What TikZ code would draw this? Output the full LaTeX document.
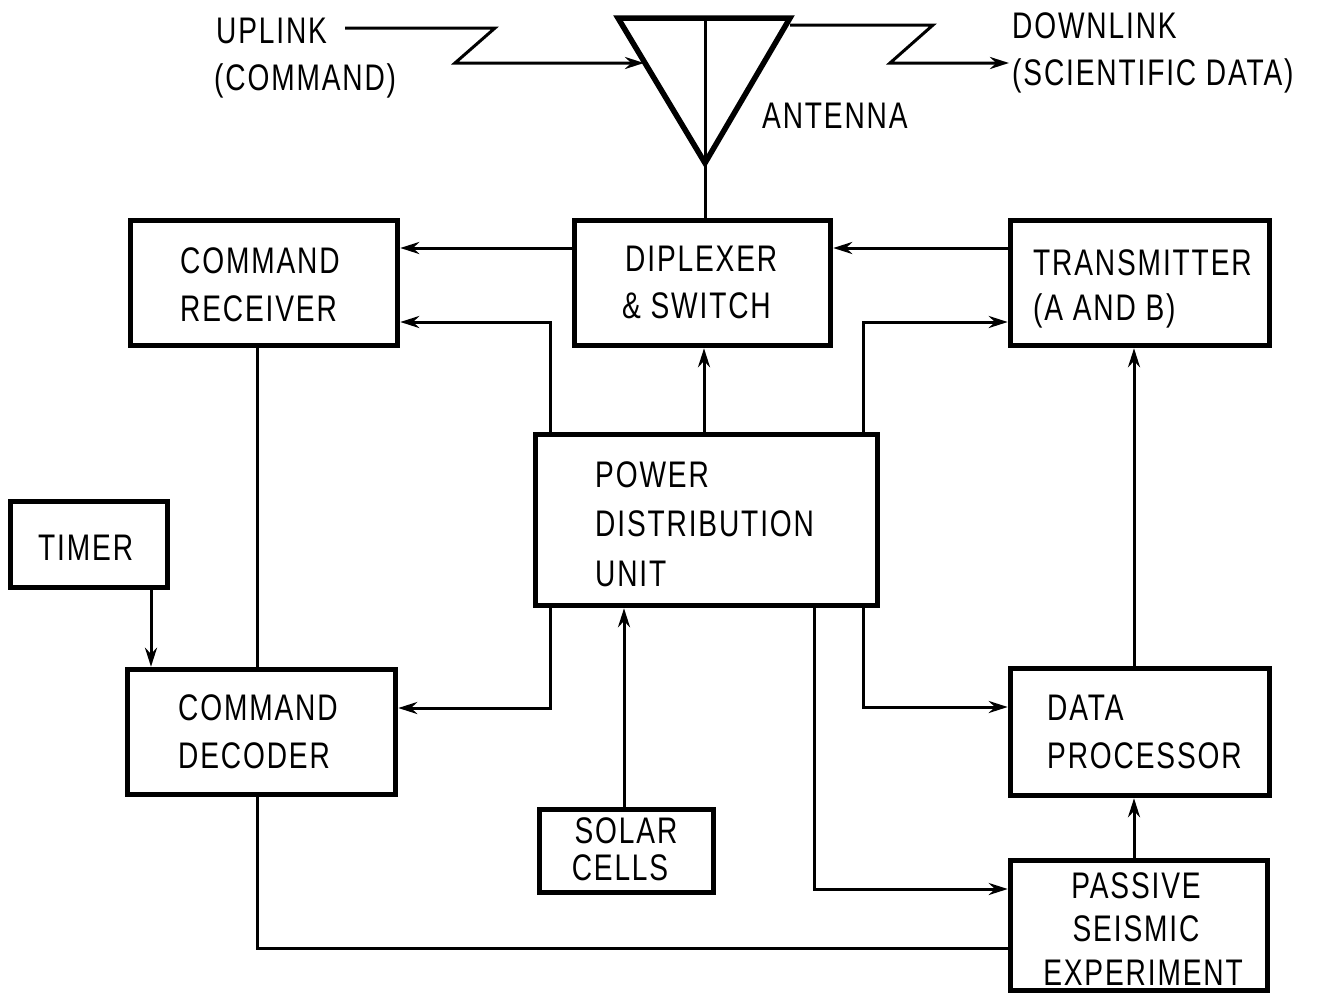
\documentclass[tikz,border=0pt]{standalone}
\usepackage{fontspec}
\setmainfont[FakeStretch=0.76,LetterSpace=5]{Liberation Sans}
\usetikzlibrary{arrows.meta}
\tikzset{
  box/.style={draw, line width=5.5pt, inner sep=0pt, minimum width=#1},
  conn/.style={line width=3pt},
  arr/.style={conn, -{Stealth[length=19pt,width=12pt]}},
  lbl/.style={inner sep=0pt, anchor=base west, font=\fontsize{37}{44}\selectfont},
  lblc/.style={inner sep=0pt, anchor=base, font=\fontsize{37}{44}\selectfont}
}
\begin{document}
\begin{tikzpicture}[x=1pt,y=-1pt]
\useasboundingbox (0,0) rectangle (1325,1002);
% boxes
\node[box=267pt, minimum height=125pt] (rec) at (264,283) {};
\node[box=256pt, minimum height=125pt] (dip) at (702.5,283) {};
\node[box=259pt, minimum height=125pt] (tra) at (1140,283) {};
\node[box=342pt, minimum height=171pt] (pdu) at (706.5,520) {};
\node[box=157pt, minimum height=86pt] (tim) at (89,544.5) {};
\node[box=268pt, minimum height=125pt] (dec) at (261.5,732) {};
\node[box=259pt, minimum height=127pt] (dp) at (1140,732) {};
\node[box=174pt, minimum height=83pt] (sol) at (626.5,851) {};
\node[box=257pt, minimum height=130pt] (pse) at (1139,925.5) {};
% texts
\node[lbl] (recA) at (180,273) {COMMAND};
\node[lbl] (recB) at (180,321) {RECEIVER};
\node[lbl] (dipA) at (625,271) {DIPLEXER};
\node[lbl] (dipB) at (622,318) {\&\ SWITCH};
\node[lbl] (traA) at (1033,275) {TRANSMITTER};
\node[lbl] (traB) at (1033,320) {(A AND B)};
\node[lbl] (pduA) at (595,487) {POWER};
\node[lbl] (pduB) at (595,536) {DISTRIBUTION};
\node[lbl] (pduC) at (595,586) {UNIT};
\node[lbl] (timA) at (38,560) {TIMER};
\node[lbl] (decA) at (178,720) {COMMAND};
\node[lbl] (decB) at (178,768) {DECODER};
\node[lbl] (dpA) at (1047,720) {DATA};
\node[lbl] (dpB) at (1047,768) {PROCESSOR};
\node[lblc] (solA) at (626,843) {SOLAR};
\node[lblc] (solB) at (620,880) {CELLS};
\node[lblc] (pseA) at (1136,898) {PASSIVE};
\node[lblc] (pseB) at (1136,941) {SEISMIC};
\node[lblc] (pseC) at (1143,985) {EXPERIMENT};
\node[lbl] (upA) at (216,43) {UPLINK};
\node[lbl] (upB) at (214,90) {(COMMAND)};
\node[lbl] (dnA) at (1012,38) {DOWNLINK};
\node[lbl] (dnB) at (1012,85) {(SCIENTIFIC DATA)};
\node[lbl] (ant) at (762,128) {ANTENNA};
% antenna
\coordinate (apex) at (705,163);
\coordinate (antL) at (618,18);
\coordinate (antR) at (790,18);
\coordinate (antT) at (705,18);
\draw[line width=5.5pt, line join=miter] (antL) -- (antR) -- (apex) -- cycle;
\draw[conn] (antT) -- (apex);
\draw[conn] (apex) -- (apex |- dip.north);
% uplink / downlink
\coordinate (upS) at (345,28);
\coordinate (upT) at (644,63);
\draw[arr] (upS) -- (495,28) -- (455,63) -- (upT);
\coordinate (dnS) at (790,25);
\coordinate (dnT) at (1009,63);
\draw[arr] (dnS) -- (933,25) -- (890,63) -- (dnT);
% connectors
\draw[arr] (dip.west |- 0,248) -- (rec.east |- 0,248);
\draw[arr] (tra.west |- 0,248) -- (dip.east |- 0,248);
\draw[arr] (pdu.north -| 550,0) -- (550,322) -- (rec.east |- 0,322);
\draw[arr] (pdu.north -| 704,0) -- (dip.south -| 704,0);
\draw[arr] (pdu.north -| 863,0) -- (863,322) -- (tra.west |- 0,322);
\draw[conn] (rec.south -| 257,0) -- (dec.north -| 257,0);
\draw[arr] (tim.south -| 151,0) -- (dec.north -| 151,0);
\draw[arr] (pdu.south -| 550,0) -- (550,708) -- (dec.east |- 0,708);
\draw[arr] (sol.north -| 624,0) -- (pdu.south -| 624,0);
\draw[arr] (pdu.south -| 814,0) -- (814,889) -- (pse.west |- 0,889);
\draw[arr] (pdu.south -| 863,0) -- (863,707) -- (dp.west |- 0,707);
\draw[arr] (dp.north -| 1134,0) -- (tra.south -| 1134,0);
\draw[arr] (pse.north -| 1134,0) -- (dp.south -| 1134,0);
\draw[conn] (dec.south -| 257,0) -- (257,948) -- (pse.west |- 0,948);
\end{tikzpicture}
\end{document}
